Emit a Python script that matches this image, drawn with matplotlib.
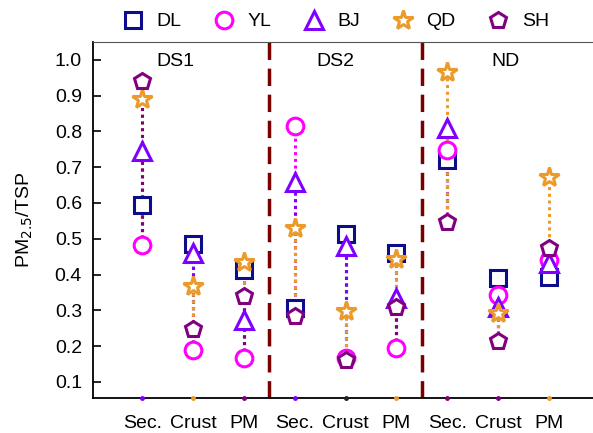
import numpy as np
import matplotlib.pyplot as plt

plt.rcParams['font.family'] = ['Liberation Sans', 'DejaVu Sans']

# categories along x: three groups of three fractions
groups = ['DS1', 'DS2', 'ND']
fractions = ['Sec.', 'Crust', 'PM']
tick_labels = fractions * 3

sites = ['DL', 'YL', 'BJ', 'QD', 'SH']
# PM2.5/TSP ratio per site, ordered DS1(Sec,Crust,PM), DS2(...), ND(...)
DL = [0.595, 0.486, 0.413, 0.306, 0.514, 0.460, 0.720, 0.390, 0.394]
YL = [0.483, 0.190, 0.166, 0.814, 0.166, 0.194, 0.748, 0.343, 0.440]
BJ = [0.744, 0.460, 0.273, 0.660, 0.480, 0.334, 0.810, 0.310, 0.432]
QD = [0.890, 0.368, 0.434, 0.530, 0.297, 0.443, 0.967, 0.292, 0.672]
SH = [0.942, 0.247, 0.339, 0.283, 0.161, 0.310, 0.548, 0.213, 0.474]

markers = ['s', 'o', '^', '*', 'p']
colors = ['#0d0d8c', '#ff00ff', '#8000ff', '#ec9a2a', '#800080']
sizes = [11, 12, 13, 15, 12]

# little marks sitting on the bottom axis under each category
base_colors = ['#8000ff', '#ec9a2a', '#800080', '#8000ff', '#222222',
               '#ec9a2a', '#800080', '#800080', '#ec9a2a']

data = np.array([DL, YL, BJ, QD, SH])
x = np.arange(1, 10)

fig = plt.figure(figsize=(5.93, 4.33), dpi=100)
ax = fig.add_axes([0.157, 0.081, 0.85, 0.822])

# dotted ranges: every site joined from the group minimum to its own value
for j in range(len(x)):
    lo = data[:, j].min()
    for i in range(len(sites)):
        ax.plot([x[j], x[j]], [lo, data[i, j]], color=colors[i], lw=2.2,
                linestyle=(0, (1, 1.2)), zorder=2)

for i, s in enumerate(sites):
    ax.plot(x, data[i], linestyle='none', marker=markers[i], ms=sizes[i],
            mfc='white', mec=colors[i], mew=2.2, label=s, zorder=3)

for xb, c in zip(x, base_colors):
    ax.plot(xb, 0.055, marker='o', ms=2.5, color=c, clip_on=False, zorder=4)

# separators between the three sampling groups
for xs in [3.5, 6.5]:
    ax.axvline(xs, color='#7a0000', lw=2.5, linestyle=(0, (5, 2.5)), zorder=1)

for gx, g in zip([1.65, 4.79, 8.14], groups):
    ax.text(gx, 0.995, g, ha='center', va='center', fontsize=14)

ax.set_xlim(0.03, 9.95)
ax.set_ylim(0.055, 1.05)
ax.set_xticks(x)
ax.set_xticklabels(tick_labels, fontsize=14)
ax.set_yticks(np.arange(0.1, 1.01, 0.1))
ax.set_yticklabels([f'{v:.1f}' for v in np.arange(0.1, 1.01, 0.1)], fontsize=14)
ax.tick_params(axis='y', direction='in', length=6, width=1.2, pad=8)
ax.tick_params(axis='x', length=0, pad=12)
ax.set_ylabel('PM$_{2.5}$/TSP', fontsize=14, labelpad=14)
ax.spines['left'].set_linewidth(1.3)
ax.spines['bottom'].set_linewidth(1.3)
ax.spines['top'].set_color('#555555')
ax.spines['right'].set_visible(False)

ax.legend(loc='lower center', bbox_to_anchor=(0.48, 1.0), ncol=5, frameon=False,
          fontsize=14, handletextpad=0.6, columnspacing=1.6, handlelength=1.2,
          borderaxespad=0.2)

fig.savefig('out.png', dpi=100)
